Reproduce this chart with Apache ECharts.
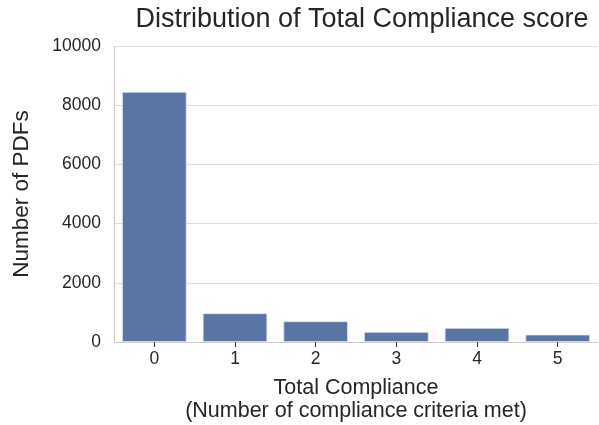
<!DOCTYPE html>
<html><head><meta charset="utf-8">
<script src="https://cdn.jsdelivr.net/npm/echarts@6/dist/echarts.min.js"></script>
<style>html,body{margin:0;padding:0;background:#fff}#c{width:599px;height:425px}</style>
</head><body><div id="c"></div>
<script>
const categories = ['0','1','2','3','4','5'];
const counts = [8450, 970, 700, 340, 475, 250];
const yTicks = [0, 2000, 4000, 6000, 8000, 10000];

const chart = echarts.init(document.getElementById('c'), null, {renderer:'canvas'});
const font = 'Liberation Sans, Arial, sans-serif';
chart.setOption({
  animation:false,
  title:{text:'Distribution of Total Compliance score', left:357, top:1, textAlign:'center',
    textStyle:{fontFamily:font, fontSize:27, fontWeight:'normal', color:'#262626'}},
  grid:{left:114, right:1, top:46, bottom:83, containLabel:false, outerBoundsMode:'none'},
  xAxis:{type:'category', data:categories,
    name:'Total Compliance\n(Number of compliance criteria met)', nameLocation:'middle', nameGap:34,
    nameTextStyle:{fontFamily:font, fontSize:21.5, color:'#262626', lineHeight:23.5},
    axisLine:{lineStyle:{color:'#cccccc', width:1.2}},
    axisTick:{show:true, alignWithLabel:true, length:5, lineStyle:{color:'#333'}},
    axisLabel:{fontFamily:font, fontSize:17.5, color:'#262626', margin:8}},
  yAxis:{type:'value', min:yTicks[0], max:yTicks[yTicks.length-1], interval:2000,
    name:'Number of PDFs', nameLocation:'middle', nameGap:81, nameRotate:90,
    nameTextStyle:{fontFamily:font, fontSize:22.5, color:'#262626'},
    axisLine:{show:true, lineStyle:{color:'#cccccc', width:1.2}},
    axisTick:{show:false},
    axisLabel:{fontFamily:font, fontSize:17.5, color:'#262626', margin:13, formatter:v=>String(v)},
    splitLine:{lineStyle:{color:'#dddddd', width:1}}},
  series:[{type:'bar', data:counts, barCategoryGap:'20%',
    itemStyle:{color:'#5975a4', borderColor:'#dfe4ee', borderWidth:0.8}}]
});
</script></body></html>
